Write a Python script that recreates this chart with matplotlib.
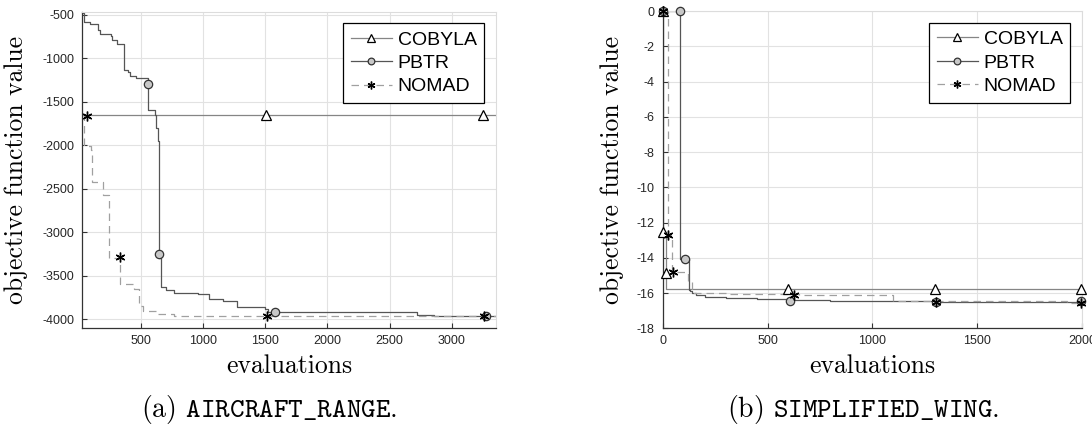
import matplotlib
matplotlib.use("Agg")
import matplotlib.pyplot as plt
from matplotlib.legend_handler import HandlerTuple

plt.rcParams['axes.unicode_minus'] = False
plt.rcParams['mathtext.fontset'] = 'cm'

# ---- (a) AIRCRAFT_RANGE ----
a_cobyla_x = [29, 3355]
a_cobyla_y = [-1660, -1660]
a_cobyla_mx = [1504, 3249]
a_cobyla_my = [-1660, -1660]

a_pbtr_x = [29, 45, 90, 153, 172, 260, 270, 306, 368, 395, 414, 460, 560, 615, 625,
            640, 645, 660, 700, 765, 960, 1045, 1160, 1270, 1500, 1520, 2720, 2860, 3355]
a_pbtr_y = [-480, -590, -610, -680, -720, -745, -790, -835, -1140, -1165, -1210, -1228,
            -1600, -1650, -1800, -1950, -3300, -3630, -3670, -3700, -3715, -3770, -3790,
            -3866, -3885, -3925, -3955, -3968, -3968]
a_pbtr_mx = [553, 645, 1580, 3277]
a_pbtr_my = [-1303, -3251, -3923, -3969]

a_nomad_x = [29, 46, 100, 105, 193, 243, 335, 444, 486, 514, 626, 765, 3355]
a_nomad_y = [-1660, -2010, -2060, -2430, -2578, -3297, -3597, -3650, -3850, -3904,
             -3942, -3961, -3965]
a_nomad_mx = [63, 332, 1511, 3256]
a_nomad_my = [-1664, -3289, -3969, -3969]

# ---- (b) SIMPLIFIED_WING ----
b_cobyla_x = [0, 3, 15, 17, 2000]
b_cobyla_y = [0, -12.55, -14.88, -15.77, -15.77]
b_cobyla_mx = [0, 3, 15, 598, 1298, 1997]
b_cobyla_my = [0, -12.55, -14.88, -15.77, -15.77, -15.77]

b_pbtr_x = [0, 80, 126, 130, 140, 160, 200, 300, 450, 600, 800, 1300, 2000]
b_pbtr_y = [0, -14.06, -15.8, -15.9, -16.0, -16.1, -16.2, -16.28, -16.35, -16.42,
            -16.47, -16.5, -16.5]
b_pbtr_mx = [0, 80, 106, 608, 1303, 1997]
b_pbtr_my = [0, 0, -14.06, -16.43, -16.48, -16.45]

b_nomad_x = [0, 27, 42, 121, 140, 150, 300, 650, 1100, 1930, 2000]
b_nomad_y = [0, -12.7, -14.8, -15.3, -15.9, -16.0, -16.05, -16.1, -16.45, -16.58, -16.58]
b_nomad_mx = [0, 27, 50, 625, 1303, 1997]
b_nomad_my = [0, -12.7, -14.8, -16.1, -16.48, -16.55]

labels = ['COBYLA', 'PBTR', 'NOMAD']

fig = plt.figure(figsize=(10.92, 4.26), dpi=100)
ax1 = fig.add_axes([0.0754, 0.2293, 0.3788, 0.7437])
ax2 = fig.add_axes([0.6069, 0.2293, 0.3840, 0.7448])

asterisk = (6, 2, 0)


def draw(ax, series):
    handles = []
    styles = [
        dict(color='#858585', ls='-', marker='^', mfc='white', mec='black', ms=6.5, mew=0.9),
        dict(color='#555555', ls='-', marker='o', mfc='#c8c8c8', mec='#333333', ms=6, mew=0.9),
        dict(color='#a0a0a0', ls=(0, (6, 4)), marker=asterisk, mfc='black', mec='black', ms=7, mew=1.0),
    ]
    for (x, y, mx, my), st in zip(series, styles):
        ln, = ax.plot(x, y, drawstyle='steps-post', color=st['color'], ls=st['ls'], lw=0.9)
        mk, = ax.plot(mx, my, ls='none', marker=st['marker'], mfc=st['mfc'], mec=st['mec'],
                      ms=st['ms'], mew=st['mew'], clip_on=False, zorder=5)
        handles.append((ln, mk))
    return handles


def style(ax):
    ax.grid(True, color='#e2e2e2', lw=0.8)
    ax.set_axisbelow(True)
    for s in ['top', 'right']:
        ax.spines[s].set_color('#dcdcdc')
        ax.spines[s].set_linewidth(0.8)
    for s in ['left', 'bottom']:
        ax.spines[s].set_color('#333333')
        ax.spines[s].set_linewidth(0.9)
    ax.tick_params(direction='in', length=3.5, width=0.8, color='#333333',
                   labelsize=9, labelcolor='#262626', top=False, right=False)
    ax.tick_params(axis='x', pad=5)
    ax.tick_params(axis='y', pad=6)
    for lab in ax.get_xticklabels() + ax.get_yticklabels():
        lab.set_family('Liberation Sans')
    ax.set_xlabel('evaluations', family='cmr10', fontsize=18.5, va='baseline')
    ax.set_ylabel('objective function value', family='cmr10', fontsize=18.5, va='baseline')


h1 = draw(ax1, [(a_cobyla_x, a_cobyla_y, a_cobyla_mx, a_cobyla_my),
                (a_pbtr_x, a_pbtr_y, a_pbtr_mx, a_pbtr_my),
                (a_nomad_x, a_nomad_y, a_nomad_mx, a_nomad_my)])
ax1.set_xlim(29, 3355)
ax1.set_ylim(-4107, -465)
ax1.set_xticks([500, 1000, 1500, 2000, 2500, 3000])
ax1.set_yticks([-4000, -3500, -3000, -2500, -2000, -1500, -1000, -500])
style(ax1)
ax1.xaxis.set_label_coords(0.5, -0.142)
ax1.yaxis.set_label_coords(-0.1438, 0.5)

h2 = draw(ax2, [(b_cobyla_x, b_cobyla_y, b_cobyla_mx, b_cobyla_my),
                (b_pbtr_x, b_pbtr_y, b_pbtr_mx, b_pbtr_my),
                (b_nomad_x, b_nomad_y, b_nomad_mx, b_nomad_my)])
ax2.set_xlim(0, 2000)
ax2.set_ylim(-18, 0)
ax2.set_xticks([0, 500, 1000, 1500, 2000])
ax2.set_yticks(list(range(-18, 1, 2)))
style(ax2)
ax2.xaxis.set_label_coords(0.5, -0.142)
ax2.yaxis.set_label_coords(-0.104, 0.5)

for ax, h in [(ax1, h1), (ax2, h2)]:
    leg = ax.legend(h, labels, handler_map={tuple: HandlerTuple(ndivide=1)},
                    loc='upper right', prop={'family': 'Liberation Sans', 'size': 14},
                    fancybox=False, framealpha=1, edgecolor='black', handlelength=2.1,
                    handletextpad=0.3, labelspacing=0.3, borderpad=0.4,
                    borderaxespad=0.6, markerscale=0.8)
    leg.get_frame().set_linewidth(0.9)

fig.text(0.246, 1 - 416.7 / 426, r'(a) $\mathtt{AIRCRAFT\_RANGE.}$', family='cmr10',
         fontsize=20, ha='center', va='baseline')
fig.text(0.7908, 1 - 416.7 / 426, r'(b) $\mathtt{SIMPLIFIED\_WING.}$', family='cmr10',
         fontsize=20, ha='center', va='baseline')

fig.savefig('out.png', dpi=100)
